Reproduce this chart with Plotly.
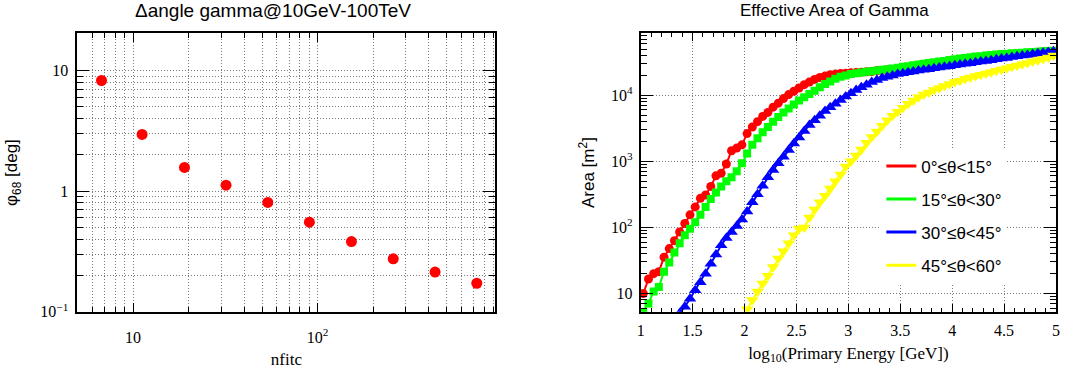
import plotly.graph_objects as go

# ---------------- Left panel data ----------------
nfitc = [6.75, 11.2, 19.0, 31.9, 53.7, 90.2, 152.4, 256.6, 432.5, 727.6]
phi68 = [8.26, 2.95, 1.57, 1.12, 0.805, 0.552, 0.381, 0.274, 0.213, 0.172]

# ---------------- Right panel data ----------------
# bin centres of log10(E/GeV), 0.05 wide bins from 1 to 5
log_e = [round(1.025 + 0.05 * i, 3) for i in range(80)]

# log10(Area / m^2), one value per bin (None = below axis)
red_log_area = [
    1.00, 1.22, 1.30, 1.33, 1.55, 1.68, 1.80, 1.93, 2.06, 2.19,
    2.31, 2.44, 2.49, 2.62, 2.78, 2.82, 2.96, 3.16, 3.20, 3.25,
    3.42, 3.52, 3.60, 3.68, 3.74, 3.82, 3.88, 3.95, 4.01, 4.06,
    4.11, 4.16, 4.20, 4.24, 4.27, 4.29, 4.31, 4.32, 4.33, 4.335,
    4.34, 4.345, 4.35, 4.355, 4.36, 4.37, 4.375, 4.385, 4.39, 4.40,
    4.41, 4.42, 4.43, 4.445, 4.455, 4.47, 4.48, 4.49, 4.50, 4.515,
    4.525, 4.535, 4.545, 4.555, 4.56, 4.57, 4.58, 4.585, 4.595, 4.60,
    4.61, 4.615, 4.625, 4.63, 4.635, 4.645, 4.65, 4.655, 4.66, 4.665,
]
green_log_area = [
    0.72, 0.85, 1.03, 1.10, 1.33, 1.47, 1.62, 1.76, 1.88, 1.98,
    2.08, 2.19, 2.31, 2.43, 2.53, 2.62, 2.70, 2.76, 2.85, 2.97,
    3.12, 3.25, 3.35, 3.44, 3.52, 3.60, 3.67, 3.74, 3.80, 3.86,
    3.92, 3.97, 4.02, 4.07, 4.12, 4.17, 4.21, 4.25, 4.28, 4.30,
    4.32, 4.335, 4.345, 4.355, 4.365, 4.375, 4.385, 4.395, 4.405, 4.415,
    4.43, 4.44, 4.455, 4.465, 4.475, 4.49, 4.50, 4.51, 4.52, 4.535,
    4.545, 4.555, 4.565, 4.575, 4.585, 4.59, 4.60, 4.61, 4.615, 4.625,
    4.63, 4.635, 4.64, 4.645, 4.65, 4.655, 4.66, 4.665, 4.67, 4.675,
]
blue_log_area = [
    None, None, None, None, None, None, None, 0.70, 0.80, 0.92,
    1.05, 1.17, 1.30, 1.45, 1.59, 1.73, 1.84, 1.93, 2.02, 2.12,
    2.24, 2.38, 2.50, 2.63, 2.76, 2.87, 2.97, 3.07, 3.17, 3.27,
    3.36, 3.46, 3.55, 3.62, 3.69, 3.76, 3.82, 3.87, 3.93, 3.98,
    4.03, 4.08, 4.12, 4.16, 4.20, 4.23, 4.26, 4.28, 4.30, 4.32,
    4.335, 4.35, 4.36, 4.375, 4.385, 4.395, 4.41, 4.42, 4.43, 4.44,
    4.455, 4.465, 4.475, 4.485, 4.50, 4.51, 4.52, 4.53, 4.545, 4.555,
    4.565, 4.58, 4.59, 4.60, 4.61, 4.625, 4.635, 4.645, 4.655, 4.665,
]
yellow_log_area = [
    None, None, None, None, None, None, None, None, None, None,
    None, None, None, None, None, None, None, None, None, None,
    0.76, 0.90, 1.03, 1.15, 1.27, 1.40, 1.53, 1.64, 1.76, 1.88,
    1.98, 2.00, 2.15, 2.27, 2.38, 2.48, 2.59, 2.70, 2.80, 2.92,
    3.00, 3.09, 3.18, 3.28, 3.37, 3.45, 3.54, 3.62, 3.69, 3.75,
    3.81, 3.87, 3.92, 3.97, 4.01, 4.04, 4.08, 4.11, 4.14, 4.17,
    4.20, 4.22, 4.25, 4.27, 4.29, 4.31, 4.33, 4.35, 4.37, 4.39,
    4.41, 4.43, 4.45, 4.47, 4.49, 4.51, 4.53, 4.55, 4.57, 4.60,
]

series_names = ["0°≤θ<15°", "15°≤θ<30°", "30°≤θ<45°", "45°≤θ<60°"]
series_colors = ["#ff0000", "#00ff00", "#0000ff", "#ffff00"]
series_symbols = ["circle", "square", "triangle-up", "triangle-down"]
series_sizes = [9, 8, 11, 11]
series_data = [red_log_area, green_log_area, blue_log_area, yellow_log_area]

SERIF = "Liberation Serif"
SANS = "Liberation Sans"

W, H = 1065, 376
def px_x(p):
    return p / W
def px_y(p):
    return 1 - p / H

fig = go.Figure()

fig.add_trace(go.Scatter(
    x=nfitc, y=phi68, mode="markers",
    marker=dict(color="#ff0000", size=11, symbol="circle"),
    xaxis="x", yaxis="y", showlegend=False, name="phi68"))

for name, col, sym, sz, vals in zip(series_names, series_colors, series_symbols, series_sizes, series_data):
    xs = [e for e, v in zip(log_e, vals) if v is not None]
    ys = [10 ** v for v in vals if v is not None]
    fig.add_trace(go.Scatter(
        x=xs, y=ys, mode="lines+markers",
        line=dict(color=col, width=2),
        marker=dict(color=col, size=sz, symbol=sym, line=dict(width=0)),
        xaxis="x2", yaxis="y2", showlegend=False, name=name))

# legend entries (line only, as in the reference)
for i, (name, col) in enumerate(zip(series_names, series_colors)):
    fig.add_trace(go.Scatter(
        x=[None], y=[None], mode="lines", line=dict(color=col, width=3),
        xaxis="x2", yaxis="y2", name=name, legendgroup="g%d" % i, showlegend=True))

GRID = "#7a7a7a"
DASH = "1px,2px"

def digits(decades):
    out = []
    for d in decades:
        for k in range(2, 10):
            out.append(k * 10 ** d)
    return out

left_x_minor = [v for v in digits([0, 1, 2]) if 5 <= v <= 916]
left_y_minor = [v for v in digits([-1, 0, 1]) if 0.1 <= v <= 20.3]
right_x_minor = [round(1 + 0.1 * i, 2) for i in range(41)]
right_y_minor = [v for v in digits([0, 1, 2, 3, 4]) if 5.3 <= v <= 86000]

TICKFONT = dict(family=SERIF, size=16, color="black")
common = dict(showline=True, linecolor="black", linewidth=2, mirror="allticks",
              ticks="inside", tickcolor="black", tickwidth=1, zeroline=False,
              showgrid=True, gridcolor=GRID, griddash=DASH, gridwidth=1)

fig.update_layout(
    width=W, height=H,
    margin=dict(l=0, r=0, t=0, b=0),
    paper_bgcolor="white", plot_bgcolor="white",
    showlegend=True,
    xaxis=dict(common, type="log", domain=[px_x(74), px_x(495)], range=[0.699, 2.962],
               tickmode="array", tickvals=[10, 100], ticktext=["10", "10<sup>2</sup>"], ticklen=9,
               tickfont=TICKFONT, ticklabelstandoff=10,
               minor=dict(tickmode="array", tickvals=left_x_minor, ticks="inside", ticklen=5,
                          tickcolor="black", showgrid=True, gridcolor=GRID, griddash=DASH),
               title=dict(text="nfitc", font=dict(family=SERIF, size=17, color="black"), standoff=8),
               anchor="y"),
    yaxis=dict(common, type="log", domain=[px_y(319.3), px_y(34.3)], range=[-1, 1.307],
               tickmode="array", tickvals=[0.1, 1, 10], ticktext=["10<sup>−1</sup>", "1", "10"], ticklen=12,
               tickfont=TICKFONT, ticklabelstandoff=4,
               minor=dict(tickmode="array", tickvals=left_y_minor, ticks="inside", ticklen=6,
                          tickcolor="black", showgrid=True, gridcolor=GRID, griddash=DASH),
               title=dict(text="φ<sub>68</sub> [deg]", font=dict(family=SANS, size=17, color="black"), standoff=18),
               anchor="x"),
    xaxis2=dict(common, type="linear", domain=[px_x(641.5), px_x(1060)], range=[1, 5],
                tickmode="array", tickvals=[1, 1.5, 2, 2.5, 3, 3.5, 4, 4.5, 5],
                ticktext=["1", "1.5", "2", "2.5", "3", "3.5", "4", "4.5", "5"], ticklen=8,
                tickfont=TICKFONT, ticklabelstandoff=3,
                minor=dict(tickmode="array", tickvals=right_x_minor, ticks="inside", ticklen=4,
                           tickcolor="black", showgrid=False),
                title=dict(text="log<sub>10</sub>(Primary Energy [GeV])", font=dict(family=SERIF, size=17, color="black"), standoff=9),
                anchor="y2"),
    yaxis2=dict(common, type="log", domain=[px_y(319.3), px_y(34.3)], range=[0.725, 4.935],
                tickmode="array", tickvals=[10, 100, 1000, 10000],
                ticktext=["10", "10<sup>2</sup>", "10<sup>3</sup>", "10<sup>4</sup>"], ticklen=12,
                tickfont=TICKFONT, ticklabelstandoff=3,
                minor=dict(tickmode="array", tickvals=right_y_minor, ticks="inside", ticklen=6,
                           tickcolor="black", showgrid=False),
                title=dict(text="Area [m<sup>2</sup>]", font=dict(family=SANS, size=17, color="black"), standoff=12),
                anchor="x2"),
    legend=dict(x=px_x(884), y=px_y(152), xanchor="left", yanchor="top",
                bgcolor="white", borderwidth=0, tracegroupgap=8,
                font=dict(family=SANS, size=17, color="black"), itemwidth=30,
                traceorder="grouped"),
    annotations=[
        dict(text="Δangle gamma@10GeV-100TeV", x=px_x(271), y=px_y(11), xref="paper", yref="paper",
             xanchor="center", yanchor="middle",
             showarrow=False, font=dict(family=SANS, size=19, color="black")),
        dict(text="Effective Area of Gamma", x=px_x(837), y=px_y(11), xref="paper", yref="paper",
             xanchor="center", yanchor="middle",
             showarrow=False, font=dict(family=SANS, size=17, color="black")),
    ],
)

fig.write_html("out.html")
